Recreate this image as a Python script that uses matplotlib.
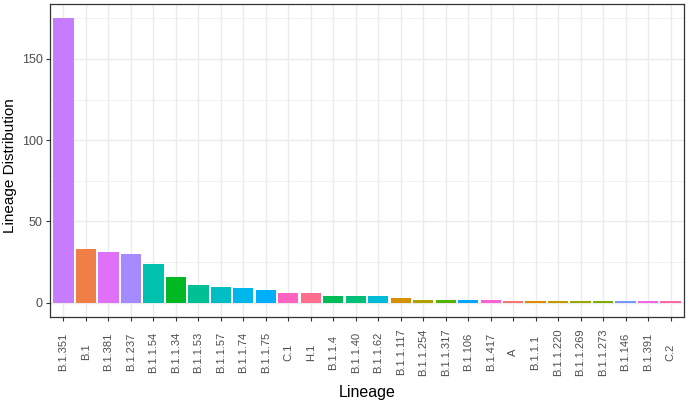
import numpy as np
import matplotlib
matplotlib.use("Agg")
import matplotlib.pyplot as plt
from matplotlib.ticker import MultipleLocator

# ---- data ----
lineages = ["B.1.351", "B.1", "B.1.381", "B.1.237", "B.1.1.54", "B.1.1.34",
            "B.1.1.53", "B.1.1.57", "B.1.1.74", "B.1.1.75", "C.1", "H.1",
            "B.1.1.4", "B.1.1.40", "B.1.1.62", "B.1.1.117", "B.1.1.254",
            "B.1.1.317", "B.1.106", "B.1.417", "A", "B.1.1.1", "B.1.1.220",
            "B.1.1.269", "B.1.1.273", "B.1.146", "B.1.391", "C.2"]
counts = [175, 33, 31, 30, 24, 16, 11, 10, 9, 8, 6, 6, 4, 4, 4, 3, 2, 2, 2, 2,
          1, 1, 1, 1, 1, 1, 1, 1]
y_ticks = [0, 50, 100, 150]
x_title = "Lineage"
y_title = "Lineage Distribution"


# ---- ggplot2 default hue palette (polar LUV) ----
def hcl_to_hex(h, c=100.0, l=65.0):
    Xn, Yn, Zn = 95.047, 100.0, 108.883
    hr = np.deg2rad(h)
    U, V = c * np.cos(hr), c * np.sin(hr)
    Y = Yn * (((l + 16) / 116) ** 3 if l > 8 else l / 903.3)
    den = Xn + 15 * Yn + 3 * Zn
    un, vn = 4 * Xn / den, 9 * Yn / den
    u = U / (13 * l) + un
    v = V / (13 * l) + vn
    X = 9.0 * Y * u / (4 * v)
    Z = -X / 3 - 5 * Y + 3 * Y / v
    X, Y, Z = X / 100, Y / 100, Z / 100
    r = 3.240479 * X - 1.537150 * Y - 0.498535 * Z
    g = -0.969256 * X + 1.875992 * Y + 0.041556 * Z
    b = 0.055648 * X - 0.204043 * Y + 1.057311 * Z

    def gam(t):
        t = 12.92 * t if t <= 0.0031308 else 1.055 * t ** (1 / 2.4) - 0.055
        return min(max(t, 0.0), 1.0)
    return matplotlib.colors.to_hex((gam(r), gam(g), gam(b)))


levels = sorted(lineages)
n = len(levels)
hues = np.linspace(15, 375, n + 1)[:n] % 360
pal = {lev: hcl_to_hex(h) for lev, h in zip(levels, hues)}
colors = [pal[l] for l in lineages]

plt.rcParams["font.family"] = ["Liberation Sans", "DejaVu Sans"]

fig = plt.figure(figsize=(6.88, 4.03), dpi=100)
W, H = 688, 403
left, right, top, bottom = 50, 684, 4, 317
ax = fig.add_axes([left / W, 1 - bottom / H, (right - left) / W, (bottom - top) / H])

x = np.arange(len(lineages))
ax.bar(x, counts, width=0.9, color=colors, zorder=3)

ax.set_xlim(-0.6, len(lineages) - 0.4)
ymax = max(counts)
ax.set_ylim(-0.05 * ymax, 1.05 * ymax)

ax.set_yticks(y_ticks)
ax.yaxis.set_minor_locator(MultipleLocator(25))
ax.set_xticks(x)
ax.set_xticklabels(lineages, rotation=90, va="center", ha="center")

ax.grid(True, which="major", color="#ebebeb", linewidth=1.0, zorder=0)
ax.grid(True, which="minor", axis="y", color="#ebebeb", linewidth=0.5, zorder=0)
ax.set_axisbelow(True)

for s in ax.spines.values():
    s.set_color("#333333")
    s.set_linewidth(0.9)

ax.tick_params(axis="x", which="major", length=3.2, width=0.8, color="#333333",
               labelsize=8.0, labelcolor="#4d4d4d", pad=22)
ax.tick_params(axis="y", which="major", length=2.8, width=0.8, color="#333333",
               labelsize=9.0, labelcolor="#4d4d4d", pad=2.5)
ax.tick_params(axis="y", which="minor", length=0)

ax.set_xlabel(x_title, fontsize=11.5, color="black")
ax.xaxis.label.set_va("center")
ax.xaxis.set_label_coords(0.5, -(393 - bottom) / (bottom - top))
ax.set_ylabel(y_title, fontsize=11.0, color="black")
ax.yaxis.label.set_va("center")
ax.yaxis.set_label_coords(-(left - 10) / (right - left), 0.485)

fig.savefig("out.png", dpi=100)
